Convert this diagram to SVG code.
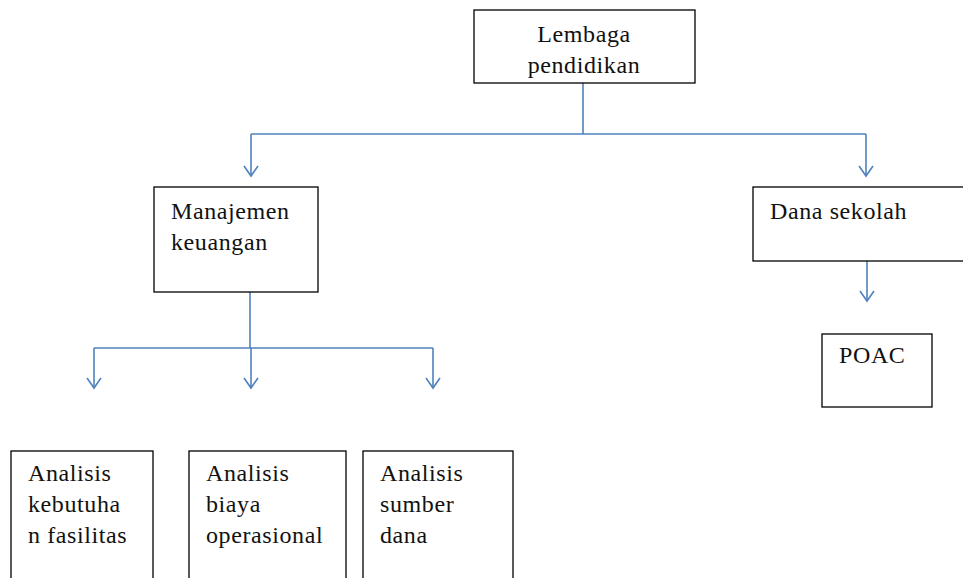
<svg xmlns="http://www.w3.org/2000/svg" width="963" height="578" viewBox="0 0 963 578">
<style>
.box{fill:#fff;stroke:#000;stroke-width:1.3}
.t{font-family:"Liberation Serif","DejaVu Serif",serif;font-size:24px;letter-spacing:0.6px;fill:#111}
.c{fill:none;stroke:#4F81BD;stroke-width:1.6}
</style>
<defs>
<marker id="ah" markerWidth="16" markerHeight="16" refX="12" refY="8" orient="auto" markerUnits="userSpaceOnUse" viewBox="0 0 16 16">
<path d="M2,1 L12,8 L2,15" fill="none" stroke="#4F81BD" stroke-width="1.6"/>
</marker>
</defs>
<rect width="963" height="578" fill="#fff"/>
<g id="connectors">
<path class="c" d="M583,83 V134"/>
<path class="c" d="M251,134 H866"/>
<path class="c" d="M251,134 V176" marker-end="url(#ah)"/>
<path class="c" d="M866,134 V176" marker-end="url(#ah)"/>
<path class="c" d="M867,261 V301" marker-end="url(#ah)"/>
<path class="c" d="M250,292 V348"/>
<path class="c" d="M94,348 H433"/>
<path class="c" d="M94,348 V388" marker-end="url(#ah)"/>
<path class="c" d="M251,348 V388" marker-end="url(#ah)"/>
<path class="c" d="M433,348 V388" marker-end="url(#ah)"/>
</g>
<g id="lembaga">
<rect class="box" x="474" y="10" width="221" height="73"/>
<text class="t" x="584" y="42" text-anchor="middle">Lembaga</text>
<text class="t" x="584" y="73" text-anchor="middle">pendidikan</text>
</g>
<g id="manajemen">
<rect class="box" x="154" y="187" width="164" height="105"/>
<text class="t" x="171" y="219">Manajemen</text>
<text class="t" x="171" y="250">keuangan</text>
</g>
<g id="dana">
<rect class="box" x="753" y="187" width="215" height="74"/>
<text class="t" x="770" y="219">Dana sekolah</text>
</g>
<g id="poac">
<rect class="box" x="822" y="334" width="110" height="73"/>
<text class="t" x="839" y="363">POAC</text>
</g>
<g id="analisis1">
<rect class="box" x="11" y="451" width="142" height="140"/>
<text class="t" x="28" y="481">Analisis</text>
<text class="t" x="28" y="512">kebutuha</text>
<text class="t" x="28" y="543">n fasilitas</text>
</g>
<g id="analisis2">
<rect class="box" x="189" y="451" width="157" height="140"/>
<text class="t" x="206" y="481">Analisis</text>
<text class="t" x="206" y="512">biaya</text>
<text class="t" x="206" y="543">operasional</text>
</g>
<g id="analisis3">
<rect class="box" x="363" y="451" width="150" height="140"/>
<text class="t" x="380" y="481">Analisis</text>
<text class="t" x="380" y="512">sumber</text>
<text class="t" x="380" y="543">dana</text>
</g>
</svg>
